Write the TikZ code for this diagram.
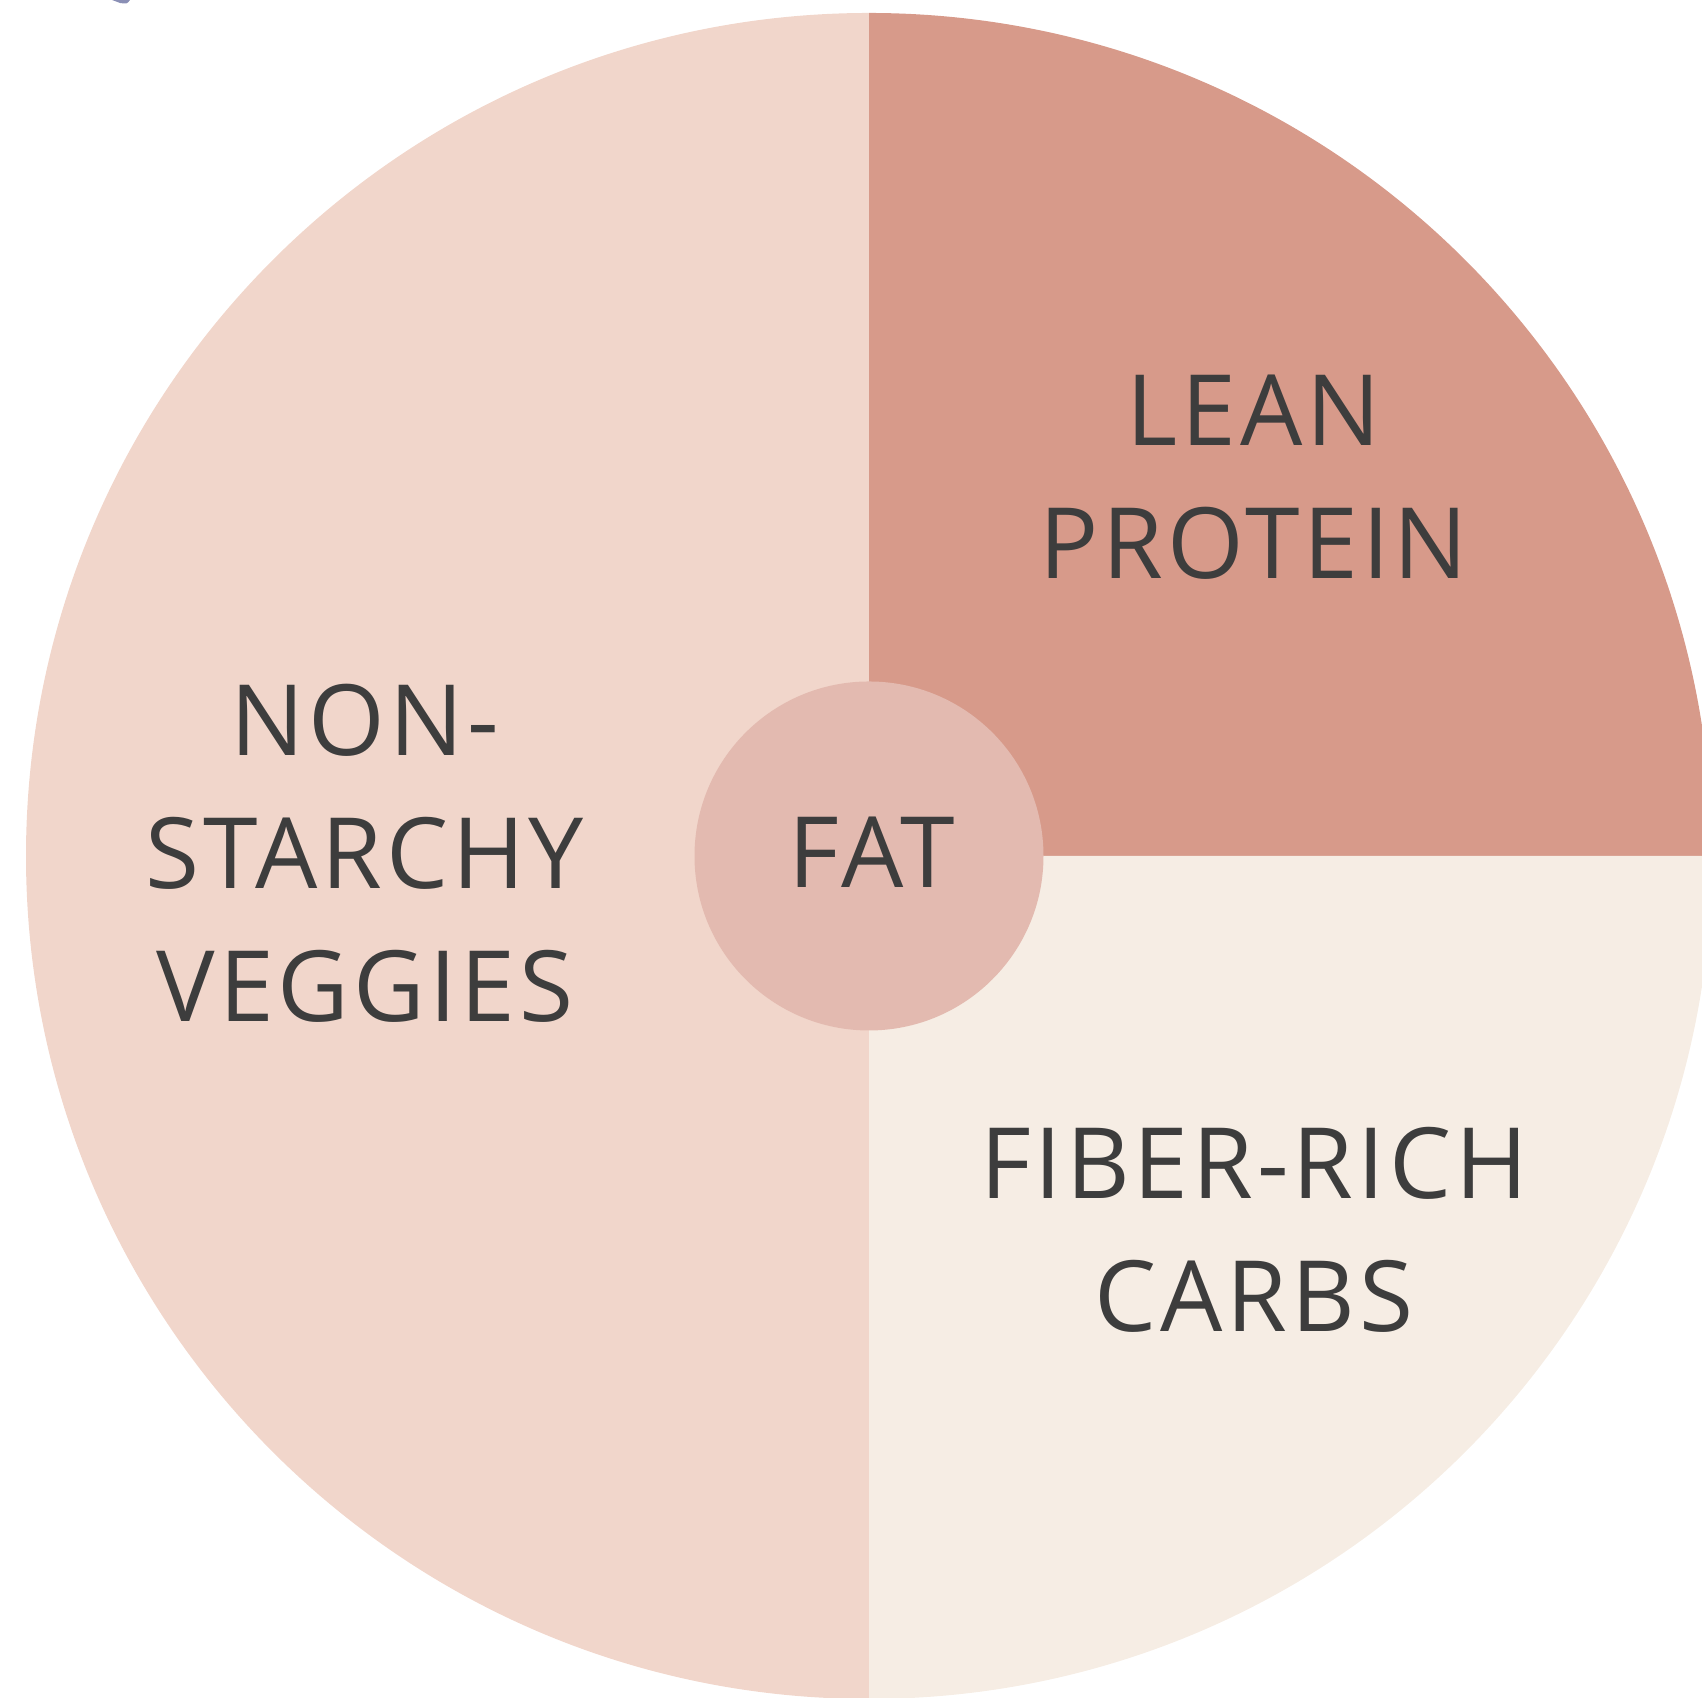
\documentclass[tikz,border=0pt]{standalone}
\usepackage{fontspec}
\usepackage{xcolor}
\newfontfamily\platefont{Open Sans}[LetterSpace=4]
\definecolor{veggiecol}{HTML}{F1D6CB}
\definecolor{proteincol}{HTML}{D79A8A}
\definecolor{carbcol}{HTML}{F6EDE4}
\definecolor{fatcol}{HTML}{E3BAB0}
\definecolor{inkcol}{HTML}{3D3D3D}
\definecolor{markcol}{HTML}{8A8FB5}
\usetikzlibrary{positioning,calc}

\begin{document}
\begin{tikzpicture}[
    label text/.style={text=inkcol, align=center, inner sep=0pt,
      font=\platefont\fontsize{28}{37.8}\selectfont}]
    \useasboundingbox (0,0) rectangle (17.02,16.98);
    \clip (0,0) rectangle (17.02,16.98);
    \coordinate (c) at (8.69, 8.42);
    % ---- the three parts of the plate
    \fill[veggiecol] (c) -- ++(0,8.43) arc (90:270:8.43) -- cycle;
    \fill[proteincol] (c) -- ++(0,8.43) arc (90:0:8.43) -- cycle;
    \fill[carbcol] (c) -- ++(8.43,0) arc (0:-90:8.43) -- cycle;
    % ---- fat in the middle
    \node[circle, fill=fatcol, minimum size=3.49cm, inner sep=0pt] (fatdisc) at (c) {};
    \node[label text] (fat) at (8.72, 8.455) {FAT};
    % ---- labels
    \node[label text] (protein) at (12.54, 12.205) {LEAN\\PROTEIN};
    \node[label text] (veggies) at (3.65, 8.45) {NON-\\STARCHY\\VEGGIES};
    \node[label text] (carbs) at (12.54, 4.685) {FIBER-RICH\\CARBS};
    % ---- cut-off mark at the top edge
    \fill[markcol] (1.12,16.98) -- (1.30,16.98) .. controls (1.27,16.94) .. (1.20,16.95) -- cycle;
\end{tikzpicture}
\end{document}
